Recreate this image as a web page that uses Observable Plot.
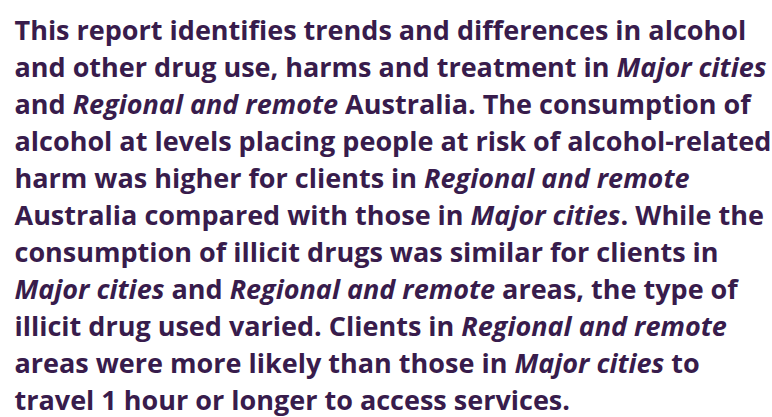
<!DOCTYPE html>
<html>
<head>
<meta charset="utf-8">
<script src="https://cdn.jsdelivr.net/npm/d3@7"></script>
<script src="https://cdn.jsdelivr.net/npm/@observablehq/plot@0.6"></script>
<style>
  html, body { margin: 0; padding: 0; background: #fff; }
  svg { display: block; }
</style>
</head>
<body>
<div id="chart"></div>
<script>
// Text lines of the summary paragraph; *...* marks italic segments
const lines = [
  "This report identifies trends and differences in alcohol",
  "and other drug use, harms and treatment in *Major cities*",
  "and *Regional and remote* Australia. The consumption of",
  "alcohol at levels placing people at risk of alcohol-related",
  "harm was higher for clients in *Regional and remote*",
  "Australia compared with those in *Major cities*. While the",
  "consumption of illicit drugs was similar for clients in",
  "*Major cities* and *Regional and remote* areas, the type of",
  "illicit drug used varied. Clients in *Regional and remote*",
  "areas were more likely than those in *Major cities* to",
  "travel 1 hour or longer to access services."
];
const lineIndex = lines.map((d, i) => i);

const plot = Plot.plot({
  width: 772,
  height: 417,
  margin: 0,
  style: {fontFamily: "'Open Sans', sans-serif", color: "#381c4c", background: "#fff"},
  y: {type: "point", domain: lineIndex, range: [26.5, 404.5], padding: 0, axis: null},
  x: {axis: null},
  marks: [
    Plot.text(lineIndex, {
      y: d => d,
      text: d => lines[d],
      frameAnchor: "left",
      dx: 14,
      textAnchor: "start",
      fontSize: 27,
      fontWeight: 700,
      fill: "#381c4c"
    })
  ]
});

// Convert *...* markers into italic tspans
plot.querySelectorAll("text").forEach(t => {
  const s = t.textContent;
  if (!s.includes("*")) return;
  t.textContent = "";
  s.split("*").forEach((part, k) => {
    if (!part) return;
    const ts = document.createElementNS("http://www.w3.org/2000/svg", "tspan");
    ts.textContent = part;
    if (k % 2 === 1) ts.setAttribute("font-style", "italic");
    t.appendChild(ts);
  });
});

document.getElementById("chart").appendChild(plot);
</script>
</body>
</html>
